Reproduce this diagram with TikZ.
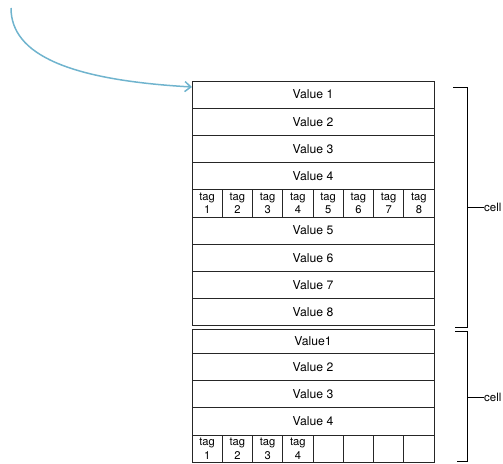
\documentclass[tikz,border=0pt]{standalone}
\usepackage{fontspec}
\setmainfont{TeX Gyre Heros}
\usepackage{tikz}
\usetikzlibrary{positioning,arrows.meta}

\definecolor{linkblue}{RGB}{112,180,206}

\tikzset{
  valrow/.style={draw=black!85, line width=0.9pt, minimum width=242pt, minimum height=27.2pt,
    inner sep=0pt, outer sep=0pt, font=\fontsize{12.2}{14}\selectfont},
  tagcell/.style={draw=black!85, line width=0.9pt, minimum width=30.25pt, minimum height=27.2pt,
    inner sep=0pt, outer sep=0pt, align=center, font=\fontsize{11.2}{13.5}\selectfont},
  brace/.style={draw=black, line width=0.9pt}
}

\begin{document}
\begin{tikzpicture}[x=1pt, y=-1pt]
  \useasboundingbox (0,0) rectangle (503,463);

  % First cell
  \node[valrow] (v1) at (313,94.6) {Value 1};
  \node[valrow, below=0pt of v1] (v2) {Value 2};
  \node[valrow, below=0pt of v2] (v3) {Value 3};
  \node[valrow, below=0pt of v3] (v4) {Value 4};
  \foreach \i in {1,...,8}
    \node[tagcell] (ta\i) at ({192+30.25*(\i-0.5)},203.4) {tag\\\i};
  \node[valrow] (v5) at (313,230.6) {Value 5};
  \node[valrow, below=0pt of v5] (v6) {Value 6};
  \node[valrow, below=0pt of v6] (v7) {Value 7};
  \node[valrow, below=0pt of v7] (v8) {Value 8};

  % Second cell
  \node[valrow, minimum height=24pt] (w1) at (313,341.5) {Value1};
  \node[valrow, below=0pt of w1] (w2) {Value 2};
  \node[valrow, below=0pt of w2] (w3) {Value 3};
  \node[valrow, below=0pt of w3] (w4) {Value 4};
  \foreach \i in {1,...,4}
    \node[tagcell] (tb\i) at ({192+30.25*(\i-0.5)},448.6) {tag\\\i};
  \foreach \i in {5,...,8}
    \node[tagcell] (tb\i) at ({192+30.25*(\i-0.5)},448.6) {};

  % Pointer
  \coordinate (src) at (11,8);
  \draw[linkblue, line width=1.5pt, -{Straight Barb[length=6pt,width=10pt,line width=1.5pt]}]
    (src) .. controls (11,55) and (70,80) .. ([yshift=7.6pt]v1.west);

  % Brackets
  \node[anchor=west, inner sep=0pt, font=\fontsize{11.5}{13}\selectfont] (cellA) at (484,207) {cell};
  \node[anchor=west, inner sep=0pt, font=\fontsize{11.5}{13}\selectfont] (cellB) at (484,397) {cell};
  \draw[brace] (453,87) -| (467,327) -- (455,327);
  \draw[brace] (467,207) -- (cellA.west);
  \draw[brace] (455,331) -| (467,461) -- (457,461);
  \draw[brace] (467,397) -- (cellB.west);
\end{tikzpicture}
\end{document}
